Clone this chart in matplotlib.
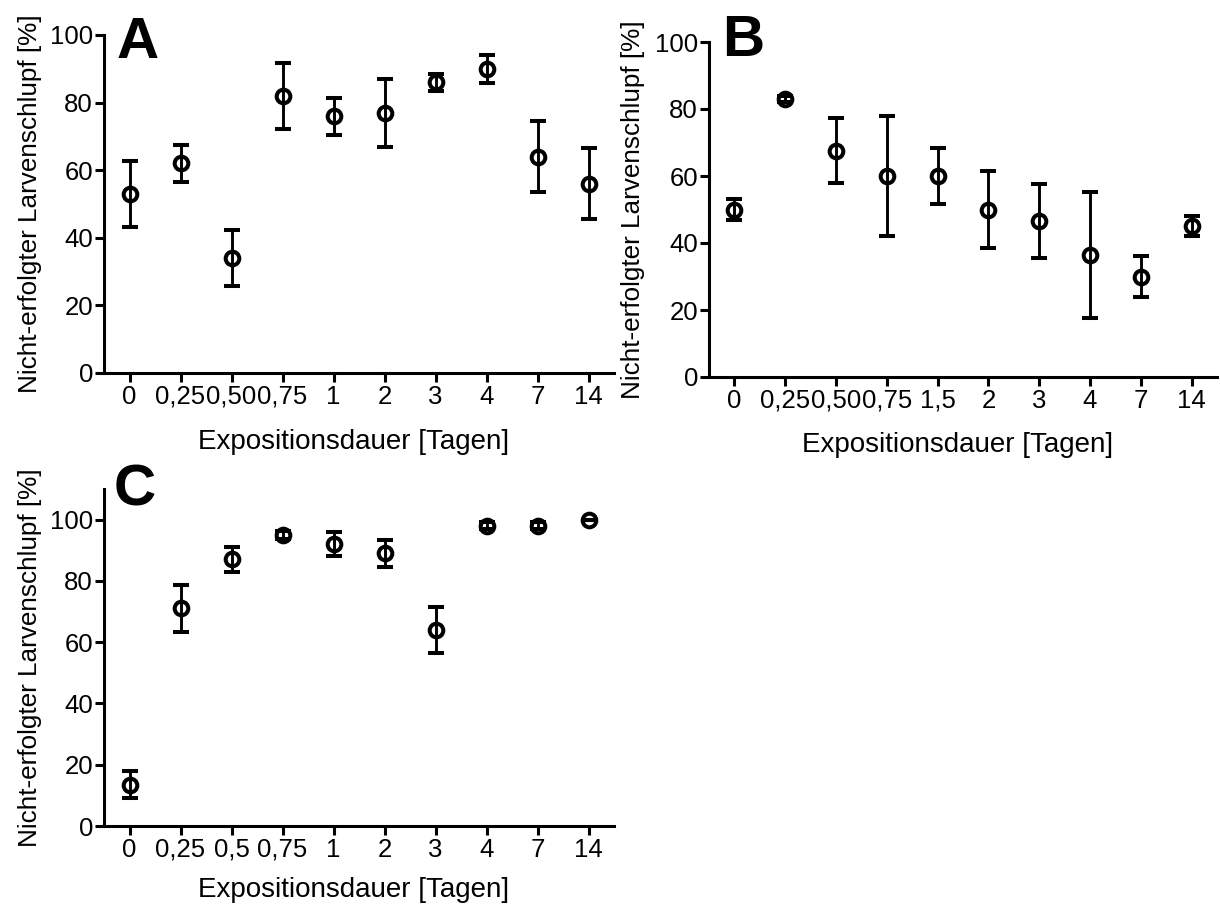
import matplotlib
matplotlib.use("Agg")
import matplotlib.pyplot as plt
import numpy as np

plt.rcParams['font.family'] = ['Liberation Sans', 'DejaVu Sans']

# ---- data ----
labels_A = ["0", "0,25", "0,50", "0,75", "1", "2", "3", "4", "7", "14"]
mean_A = [53, 62, 34, 82, 76, 77, 86, 90, 64, 56]
err_A = [9.7, 5.6, 8.3, 9.7, 5.5, 10.1, 2.5, 4.1, 10.5, 10.5]

labels_B = ["0", "0,25", "0,50", "0,75", "1,5", "2", "3", "4", "7", "14"]
mean_B = [50, 83, 67.5, 60, 60, 50, 46.5, 36.5, 30, 45]
err_B = [3, 1, 9.7, 18, 8.4, 11.5, 11, 18.8, 6, 3]

labels_C = ["0", "0,25", "0,5", "0,75", "1", "2", "3", "4", "7", "14"]
mean_C = [13.5, 71, 87, 95, 92, 89, 64, 98, 98, 100]
err_C = [4.4, 7.7, 4.2, 1.2, 3.9, 4.4, 7.6, 1.2, 1.2, 0]

ylabel = "Nicht-erfolgter Larvenschlupf [%]"
xlabel = "Expositionsdauer [Tagen]"
yticks = [0, 20, 40, 60, 80, 100]

W, H = 1220, 908
fig = plt.figure(figsize=(W / 100, H / 100), dpi=100)


def px_axes(left, right, top, bottom):
    return fig.add_axes([left / W, 1 - bottom / H, (right - left) / W, (bottom - top) / H])


def panel(ax, labels, mean, err, ymax, letter, letter_xy, ylab_x, xlab_y):
    x = np.arange(len(labels))
    ax.errorbar(x, mean, yerr=err, fmt='o', color='black', mfc='none', mec='black',
                ms=9.8, mew=2.9, elinewidth=2.1, capsize=5.8, capthick=2.1,
                clip_on=False, zorder=3)
    ax.set_xlim(-0.5, 9.5)
    ax.set_ylim(0, ymax)
    ax.set_xticks(x)
    ax.set_xticklabels(labels)
    ax.set_yticks(yticks)
    for s in ['top', 'right']:
        ax.spines[s].set_visible(False)
    for s in ['left', 'bottom']:
        ax.spines[s].set_linewidth(2.2)
    ax.tick_params(axis='both', length=6.5, width=2.2, labelsize=18.5, color='black',
                   direction='out')
    ax.tick_params(axis='y', pad=1.5)
    ax.tick_params(axis='x', pad=2)
    ax.set_ylabel(ylabel, fontsize=18.8)
    ax.set_xlabel(xlabel, fontsize=20)
    ax.yaxis.set_label_coords(ylab_x, 0.5)
    ax.xaxis.set_label_coords(0.49, xlab_y)
    fig.text(letter_xy[0] / W, 1 - letter_xy[1] / H, letter, fontsize=42,
             fontweight='bold', ha='left', va='baseline')


axA = px_axes(104, 614, 35, 373)
panel(axA, labels_A, mean_A, err_A, 100, "A", (117, 58), -0.122, -0.165)

axB = px_axes(709, 1217, 42, 377)
panel(axB, labels_B, mean_B, err_B, 100, "B", (722, 56), -0.126, -0.163)

axC = px_axes(104, 614, 489, 826)
panel(axC, labels_C, mean_C, err_C, 110, "C", (114, 506), -0.122, -0.152)

fig.savefig("out.png", dpi=100, facecolor='white')
